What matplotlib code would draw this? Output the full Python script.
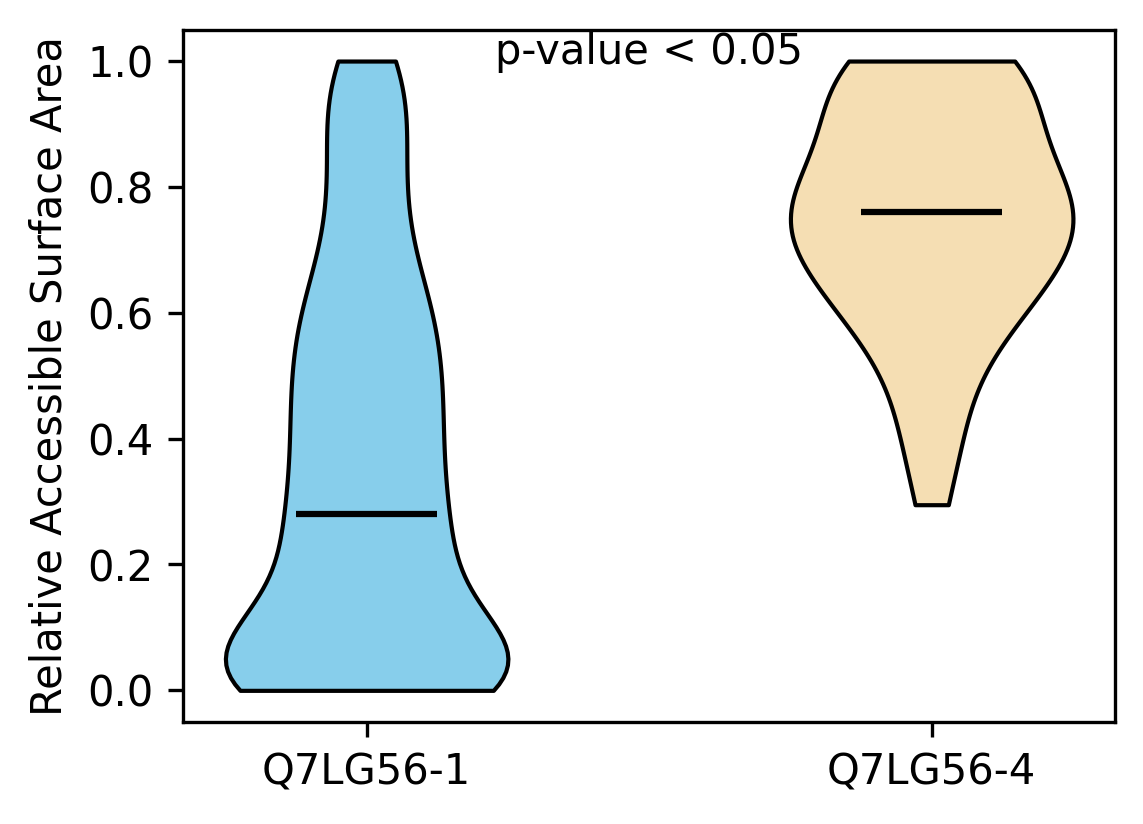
import matplotlib
matplotlib.use("Agg")
import matplotlib.pyplot as plt

categories = ["Q7LG56-1", "Q7LG56-4"]
rsa_iso1 = [0.0, 0.0, 0.0, 0.0, 0.0,
            0.01, 0.02, 0.02, 0.03, 0.04,
            0.05, 0.06, 0.07, 0.08, 0.09,
            0.12, 0.15, 0.18,
            0.21, 0.22, 0.24,
            0.26, 0.28,
            0.31, 0.34, 0.36, 0.39, 0.41, 0.44, 0.46, 0.49,
            0.51, 0.54, 0.56, 0.59, 0.62, 0.64,
            0.68, 0.73, 0.78, 0.83, 0.88, 0.93, 0.97, 1.0]
rsa_iso4 = [0.295, 0.38, 0.43, 0.46, 0.53, 0.56, 0.58, 0.60, 0.61, 0.62,
            0.64, 0.66, 0.67, 0.69, 0.70, 0.71, 0.72, 0.73, 0.74, 0.75,
            0.76,
            0.77, 0.77, 0.78, 0.79, 0.80, 0.82, 0.83, 0.85, 0.87, 0.89,
            0.91, 0.93, 0.95, 0.96, 0.97, 0.99, 1.0, 1.0, 1.0, 1.0]
colors = ["skyblue", "wheat"]
pvalue_text = "p-value < 0.05"

fig, ax = plt.subplots(figsize=(3.813, 2.747), dpi=300)
datasets = [rsa_iso1, rsa_iso4]
bws = [0.28, "scott"]
for i, (d, c, bw) in enumerate(zip(datasets, colors, bws)):
    parts = ax.violinplot([d], positions=[i + 1], showmeans=False,
                          showextrema=False, showmedians=True, bw_method=bw)
    for pc in parts["bodies"]:
        pc.set_facecolor(c)
        pc.set_edgecolor("black")
        pc.set_linewidth(1.0)
        pc.set_alpha(1)
    parts["cmedians"].set_color("black")
    parts["cmedians"].set_linewidth(1.5)

ax.set_xticks([1, 2])
ax.set_xticklabels(categories)
ax.set_ylabel("Relative Accessible Surface Area")
ax.text(0.5, 0.95, pvalue_text, transform=ax.transAxes, ha="center")
fig.subplots_adjust(left=0.16, right=0.975, top=0.964, bottom=0.124)
fig.savefig("out.png", dpi=300)
